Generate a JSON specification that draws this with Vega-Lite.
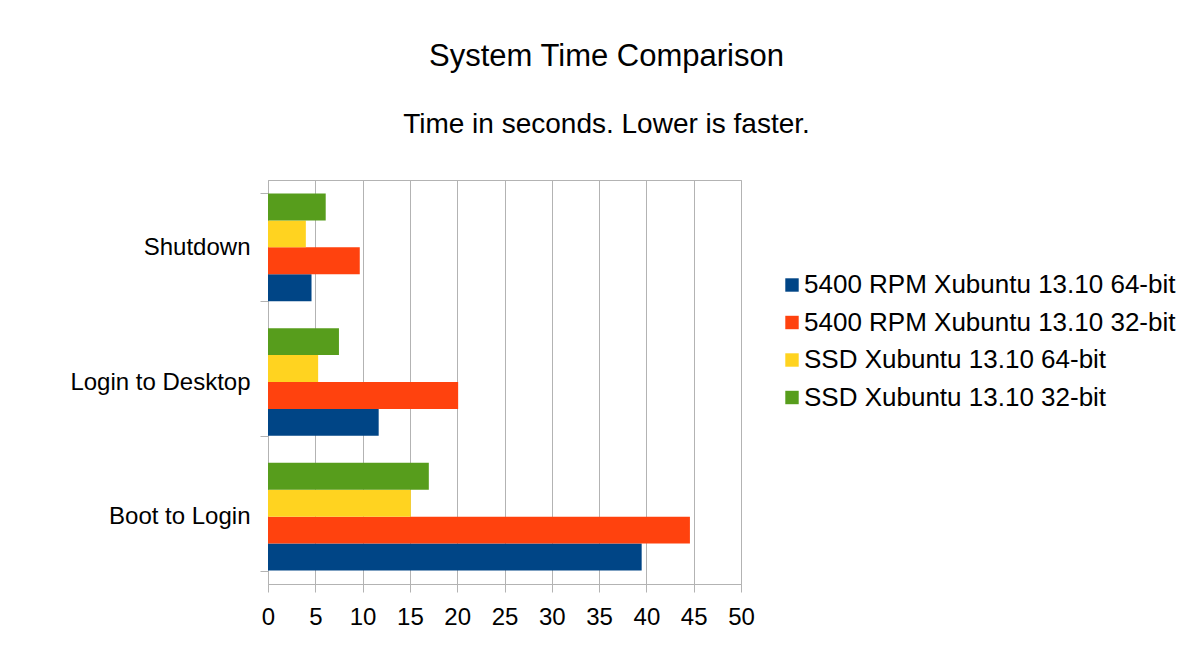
{
  "$schema": "https://vega.github.io/schema/vega-lite/v6.json",
  "width": 473,
  "height": 404,
  "autosize": {"type": "none"},
  "padding": {"left": 268, "top": 180, "right": 447, "bottom": 87},
  "background": "white",
  "title": {
    "text": "System Time Comparison",
    "subtitle": "Time in seconds. Lower is faster.",
    "anchor": "middle",
    "dx": 102,
    "font": "Liberation Sans",
    "subtitleFont": "Liberation Sans",
    "fontSize": 31,
    "subtitleFontSize": 28,
    "fontWeight": "normal",
    "color": "black",
    "subtitleColor": "black",
    "offset": 28,
    "subtitlePadding": 38
  },
  "data": {
    "values": [
      {"task": "Shutdown", "series": "5400 RPM Xubuntu 13.10 64-bit", "seconds": 4.6},
      {"task": "Shutdown", "series": "5400 RPM Xubuntu 13.10 32-bit", "seconds": 9.7},
      {"task": "Shutdown", "series": "SSD Xubuntu 13.10 64-bit", "seconds": 4.0},
      {"task": "Shutdown", "series": "SSD Xubuntu 13.10 32-bit", "seconds": 6.1},
      {"task": "Login to Desktop", "series": "5400 RPM Xubuntu 13.10 64-bit", "seconds": 11.7},
      {"task": "Login to Desktop", "series": "5400 RPM Xubuntu 13.10 32-bit", "seconds": 20.1},
      {"task": "Login to Desktop", "series": "SSD Xubuntu 13.10 64-bit", "seconds": 5.3},
      {"task": "Login to Desktop", "series": "SSD Xubuntu 13.10 32-bit", "seconds": 7.5},
      {"task": "Boot to Login", "series": "5400 RPM Xubuntu 13.10 64-bit", "seconds": 39.5},
      {"task": "Boot to Login", "series": "5400 RPM Xubuntu 13.10 32-bit", "seconds": 44.6},
      {"task": "Boot to Login", "series": "SSD Xubuntu 13.10 64-bit", "seconds": 15.1},
      {"task": "Boot to Login", "series": "SSD Xubuntu 13.10 32-bit", "seconds": 17.0}
    ]
  },
  "mark": {"type": "bar"},
  "encoding": {
    "y": {
      "field": "task",
      "type": "nominal",
      "sort": ["Shutdown", "Login to Desktop", "Boot to Login"],
      "scale": {"paddingInner": 0.2, "paddingOuter": 0.1},
      "axis": {
        "title": null,
        "tickBand": "extent",
        "grid": false,
        "tickSize": 8,
        "labelPadding": 10,
        "labelFontSize": 24,
        "labelFont": "Liberation Sans",
        "labelColor": "black",
        "labelLimit": 400,
        "domainColor": "#b3b3b3",
        "tickColor": "#b3b3b3"
      }
    },
    "yOffset": {
      "field": "series",
      "sort": ["SSD Xubuntu 13.10 32-bit", "SSD Xubuntu 13.10 64-bit", "5400 RPM Xubuntu 13.10 32-bit", "5400 RPM Xubuntu 13.10 64-bit"],
      "scale": {"paddingInner": 0, "paddingOuter": 0}
    },
    "x": {
      "field": "seconds",
      "type": "quantitative",
      "scale": {"domain": [0, 50], "nice": false},
      "axis": {
        "title": null,
        "values": [0, 5, 10, 15, 20, 25, 30, 35, 40, 45, 50],
        "grid": true,
        "gridColor": "#b3b3b3",
        "domainColor": "#b3b3b3",
        "tickColor": "#b3b3b3",
        "tickSize": 8,
        "labelPadding": 13,
        "labelFontSize": 24,
        "labelFont": "Liberation Sans",
        "labelColor": "black",
        "labelFlush": false
      }
    },
    "color": {
      "field": "series",
      "type": "nominal",
      "scale": {
        "domain": ["5400 RPM Xubuntu 13.10 64-bit", "5400 RPM Xubuntu 13.10 32-bit", "SSD Xubuntu 13.10 64-bit", "SSD Xubuntu 13.10 32-bit"],
        "range": ["#004586", "#ff420e", "#ffd320", "#579d1c"]
      },
      "legend": {
        "title": null,
        "orient": "none",
        "legendX": 511,
        "legendY": 92,
        "padding": 0,
        "symbolType": "square",
        "symbolSize": 180,
        "symbolStrokeWidth": 0,
        "symbolOpacity": 1,
        "labelFontSize": 26,
        "labelFont": "Liberation Sans",
        "labelColor": "black",
        "labelLimit": 600,
        "labelOffset": -1,
        "rowPadding": 11.5
      }
    }
  },
  "config": {
    "view": {"stroke": "#b3b3b3", "strokeWidth": 1}
  }
}
